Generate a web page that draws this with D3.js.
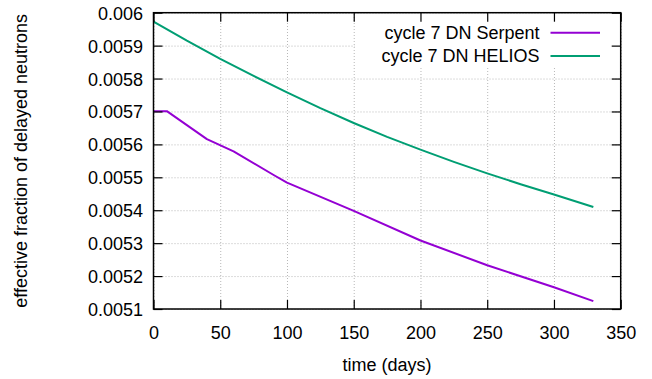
<!DOCTYPE html>
<html>
<head>
<meta charset="utf-8">
<script src="https://cdn.jsdelivr.net/npm/d3@7"></script>
<style>
  body { margin: 0; background: #fff; }
  svg { display: block; font-family: "Liberation Sans", Arial, sans-serif; }
</style>
</head>
<body>
<svg id="chart" width="652" height="379"></svg>
<script>
// Data
const serpentDays = [0, 10, 40, 60, 90, 100, 150, 200, 250, 300, 329.5];
const serpentBeta = [0.005701, 0.005701, 0.005616, 0.005579, 0.005507, 0.005484, 0.005398, 0.005308, 0.005233, 0.005166, 0.005124];

const heliosDays = [0, 25, 50, 75, 100, 125, 150, 175, 200, 225, 250, 275, 300, 329.5];
const heliosBeta = [0.005973, 0.005915, 0.005860, 0.005808, 0.005758, 0.005710, 0.005665, 0.005623, 0.005584, 0.005547, 0.005512, 0.005479, 0.005448, 0.005410];

const xTicks = [0, 50, 100, 150, 200, 250, 300, 350];
const yTicks = [0.0051, 0.0052, 0.0053, 0.0054, 0.0055, 0.0056, 0.0057, 0.0058, 0.0059, 0.006];

const seriesNames = ["cycle 7 DN Serpent", "cycle 7 DN HELIOS"];
const seriesColors = ["#9400d3", "#009e73"];

const svg = d3.select('#chart');
const margin = { left: 153.5, top: 12.7, right: 620.7, bottom: 309 };
const fontSize = "18px";

const x = d3.scaleLinear().domain([0, 350]).range([margin.left, margin.right]);
const y = d3.scaleLinear().domain([0.0051, 0.006]).range([margin.bottom, margin.top]);
const fmt = d => String(+d.toFixed(4));

// Grid (dotted)
const grid = svg.append("g").attr("class", "grid");
grid.append("g")
    .attr("transform", `translate(0,${margin.bottom})`)
    .call(d3.axisBottom(x).tickValues(xTicks).tickSize(-(margin.bottom - margin.top)).tickFormat(""));
grid.append("g")
    .attr("transform", `translate(${margin.left},0)`)
    .call(d3.axisLeft(y).tickValues(yTicks).tickSize(-(margin.right - margin.left)).tickFormat(""));
grid.selectAll(".domain").remove();
grid.selectAll("line")
    .attr("stroke", "#b8b8b8")
    .attr("stroke-width", 1)
    .attr("stroke-dasharray", "1,2");

// Legend background hides grid behind it (opaque key)
svg.append("rect")
    .attr("x", 355).attr("y", margin.top + 1)
    .attr("width", margin.right - 355 - 1).attr("height", 54)
    .attr("fill", "#fff");

// Data lines
const line = d3.line().x(d => x(d[0])).y(d => y(d[1]));
const series = [
    d3.zip(serpentDays, serpentBeta),
    d3.zip(heliosDays, heliosBeta)
];
svg.append("g").selectAll("path")
    .data(series)
    .enter().append("path")
    .attr("d", line)
    .attr("fill", "none")
    .attr("stroke", (d, i) => seriesColors[i])
    .attr("stroke-width", 2)
    .attr("stroke-linejoin", "round");

// Axes with inward ticks on all four sides
const tick = 9;
const axB = svg.append("g")
    .attr("transform", `translate(0,${margin.bottom})`)
    .call(d3.axisBottom(x).tickValues(xTicks).tickSize(-tick).tickFormat(d3.format("d")));
axB.selectAll("text").attr("y", 30).attr("dy", null);

const axL = svg.append("g")
    .attr("transform", `translate(${margin.left},0)`)
    .call(d3.axisLeft(y).tickValues(yTicks).tickSize(-tick).tickFormat(fmt));
axL.selectAll("text").attr("x", -10.5).attr("dy", "0.36em");

svg.append("g")
    .attr("transform", `translate(0,${margin.top})`)
    .call(d3.axisTop(x).tickValues(xTicks).tickSize(-tick).tickFormat(""));
svg.append("g")
    .attr("transform", `translate(${margin.right},0)`)
    .call(d3.axisRight(y).tickValues(yTicks).tickSize(-tick).tickFormat(""));

svg.selectAll(".domain").remove();
svg.selectAll(".tick line").filter(function () { return !this.closest(".grid"); })
    .attr("stroke", "#000").attr("stroke-width", 1.2);
svg.selectAll(".tick text")
    .attr("font-family", "'Liberation Sans', Arial, sans-serif")
    .attr("font-size", fontSize)
    .attr("fill", "#000");

// Border
svg.append("rect")
    .attr("x", margin.left).attr("y", margin.top)
    .attr("width", margin.right - margin.left)
    .attr("height", margin.bottom - margin.top)
    .attr("fill", "none")
    .attr("stroke", "#000")
    .attr("stroke-width", 1.5);

// Axis titles
svg.append("text")
    .attr("x", (margin.left + margin.right) / 2)
    .attr("y", 371)
    .attr("text-anchor", "middle")
    .attr("font-size", fontSize)
    .text("time (days)");

svg.append("text")
    .attr("transform", `translate(27,${(margin.top + margin.bottom) / 2}) rotate(-90)`)
    .attr("text-anchor", "middle")
    .attr("font-size", fontSize)
    .text("effective fraction of delayed neutrons");

// Legend
const legend = svg.append("g").selectAll("g")
    .data(seriesNames)
    .enter().append("g")
    .attr("transform", (d, i) => `translate(0,${32.7 + i * 23.3})`);
legend.append("text")
    .attr("x", 539.5)
    .attr("dy", "0.36em")
    .attr("text-anchor", "end")
    .attr("font-size", fontSize)
    .text(d => d);
legend.append("line")
    .attr("x1", 550.5).attr("x2", 600)
    .attr("stroke", (d, i) => seriesColors[i])
    .attr("stroke-width", 2);
</script>
</body>
</html>
